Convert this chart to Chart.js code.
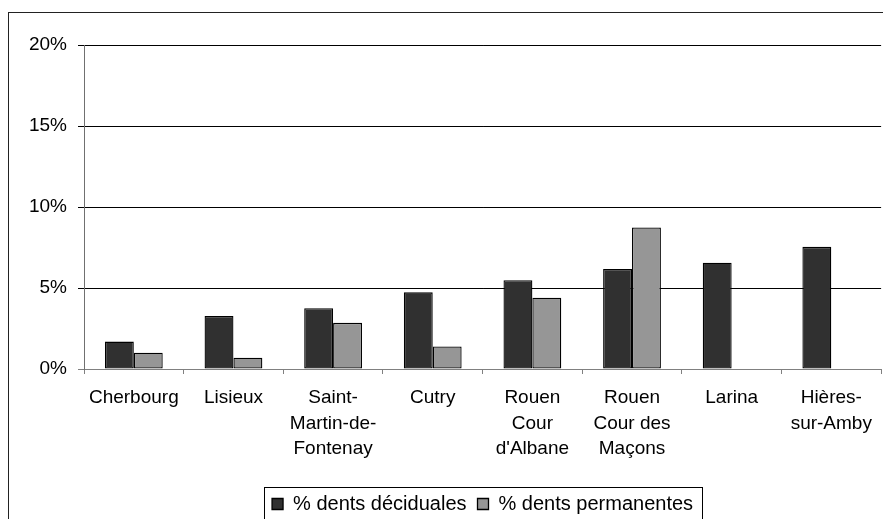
<!DOCTYPE html>
<html>
<head>
<meta charset="utf-8">
<script src="https://cdn.jsdelivr.net/npm/chart.js@4.4.1/dist/chart.umd.min.js"></script>
<style>
  html, body { margin: 0; padding: 0; background: #fff; overflow: hidden; }
  #wrap { position: relative; width: 883px; height: 530px; }
</style>
</head>
<body>
<div id="wrap"><canvas id="graphique"></canvas></div>
<script>
// Données
const sites = [
    ['Cherbourg'],
    ['Lisieux'],
    ['Saint-', 'Martin-de-', 'Fontenay'],
    ['Cutry'],
    ['Rouen', 'Cour', "d'Albane"],
    ['Rouen', 'Cour des', 'Maçons'],
    ['Larina'],
    ['Hières-', 'sur-Amby']
];
const dentsDeciduales = [1.69, 3.27, 3.75, 4.73, 5.48, 6.17, 6.56, 7.54];
const dentsPermanentes = [1.0, 0.69, 2.85, 1.39, 4.4, 8.73, null, null];
const graduations = [0, 5, 10, 15, 20];

const police = { family: "'Liberation Sans', Arial, sans-serif", size: 19 };

// cadre extérieur + cadre de la légende
const cadres = {
    id: 'cadres',
    afterDraw(chart) {
        const ctx = chart.ctx;
        ctx.save();
        ctx.strokeStyle = '#222';
        ctx.lineWidth = 1;
        ctx.strokeRect(8.5, 12.5, 1200, 1200);

        const boites = chart.legend.legendHitBoxes;
        if (boites && boites.length) {
            const premiere = boites[0];
            const derniere = boites[boites.length - 1];
            const gauche = Math.round(premiere.left - 8) + 0.5;
            const droite = Math.round(derniere.left + derniere.width + 9) + 0.5;
            const haut = Math.round(premiere.top + premiere.height / 2 - 17.5) + 0.5;
            ctx.strokeStyle = '#000';
            ctx.strokeRect(gauche, haut, droite - gauche, 200);
        }
        ctx.restore();
    }
};

const ctx = document.getElementById('graphique').getContext('2d');
new Chart(ctx, {
    type: 'bar',
    data: {
        labels: sites,
        datasets: [
            {
                label: '% dents déciduales',
                data: dentsDeciduales,
                backgroundColor: '#303030',
                borderColor: '#000',
                borderWidth: 1.3,
                borderSkipped: false
            },
            {
                label: '% dents permanentes',
                data: dentsPermanentes,
                backgroundColor: '#969696',
                borderColor: '#000',
                borderWidth: 1.3,
                borderSkipped: false
            }
        ]
    },
    options: {
        responsive: true,
        maintainAspectRatio: false,
        animation: false,
        categoryPercentage: 0.58,
        barPercentage: 1,
        layout: {
            padding: { top: 45, left: 0, right: 1, bottom: 6 }
        },
        plugins: {
            legend: {
                position: 'bottom',
                fullSize: false,
                labels: {
                    boxWidth: 11,
                    boxHeight: 11,
                    padding: 11,
                    color: '#000',
                    font: { family: police.family, size: 20 }
                }
            },
            tooltip: { enabled: false }
        },
        scales: {
            x: {
                grid: {
                    drawOnChartArea: false,
                    color: '#808080',
                    tickLength: 5
                },
                border: { color: '#808080', width: 1 },
                ticks: {
                    color: '#000',
                    font: Object.assign({ lineHeight: 1.35 }, police),
                    maxRotation: 0,
                    autoSkip: false,
                    padding: 11
                },
                afterFit(echelle) {
                    echelle.height = 114;
                }
            },
            y: {
                min: 0,
                max: 20,
                afterBuildTicks(echelle) {
                    echelle.ticks = graduations.map(v => ({ value: v }));
                },
                grid: {
                    color: ctx => ctx.tick && ctx.tick.value === 0 ? '#808080' : '#000',
                    tickLength: 6
                },
                border: { color: '#707070', width: 1 },
                ticks: {
                    color: '#000',
                    font: police,
                    padding: 11,
                    callback: v => v + '%'
                },
                afterFit(echelle) {
                    echelle.width = 84;
                }
            }
        }
    },
    plugins: [cadres]
});
</script>
</body>
</html>
